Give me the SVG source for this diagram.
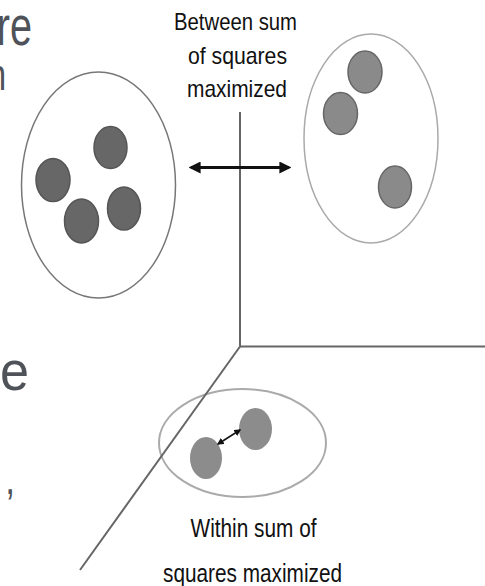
<svg xmlns="http://www.w3.org/2000/svg" width="485" height="586" viewBox="0 0 485 586">
  <defs>
    <style>
      .lbl { font-family: "Liberation Sans", Arial, sans-serif; font-size: 24px; fill: #111; }
      .lbl2 { font-family: "Liberation Sans", Arial, sans-serif; font-size: 25px; fill: #111; }
      .frag { font-family: "Liberation Sans", Arial, sans-serif; fill: #4f5359; }
      .dotDark { fill: #676767; stroke: #555; stroke-width: 1.5; }
      .dotMid { fill: #8a8a8a; stroke: #666; stroke-width: 1.5; }
      .dotLight { fill: #8c8c8c; stroke: none; }
      .axis { fill: none; stroke: #666; stroke-width: 2; }
      .arrow { fill: none; stroke: #111; }
    </style>
    <marker id="headBig" viewBox="0 0 10 10" refX="8" refY="5" markerWidth="12" markerHeight="12" markerUnits="userSpaceOnUse" orient="auto-start-reverse">
      <path d="M0,0 L10,5 L0,10 Z" fill="#111"/>
    </marker>
    <marker id="headSmall" viewBox="0 0 10 10" refX="8" refY="5" markerWidth="7" markerHeight="7" markerUnits="userSpaceOnUse" orient="auto-start-reverse">
      <path d="M0,0 L10,5 L0,10 Z" fill="#111"/>
    </marker>
  </defs>
  <rect width="485" height="586" fill="#fff"/>

  <g id="fragments">
    <text class="frag" font-size="55" text-anchor="end" transform="translate(32,45) scale(0.72,1)">re</text>
    <text class="frag" font-size="44" text-anchor="end" transform="translate(6,90) scale(0.75,1)">n</text>
    <text class="frag" font-size="55" text-anchor="end" transform="translate(29,390) scale(0.95,1)">e</text>
    <text class="frag" font-size="44" text-anchor="end" transform="translate(15,494) scale(0.8,1)">,</text>
  </g>

  <g id="cluster-left">
    <ellipse cx="98.5" cy="185" rx="77" ry="113" fill="none" stroke="#777" stroke-width="1.5"/>
    <ellipse class="dotDark" cx="110.5" cy="147.5" rx="16.5" ry="21"/>
    <ellipse class="dotDark" cx="53" cy="180" rx="17" ry="21.5"/>
    <ellipse class="dotDark" cx="81.5" cy="221" rx="17" ry="22"/>
    <ellipse class="dotDark" cx="124" cy="208.5" rx="16.5" ry="21.5"/>
  </g>

  <g id="cluster-right">
    <ellipse cx="371" cy="138.5" rx="67" ry="104.5" fill="none" stroke="#aaa" stroke-width="1.5"/>
    <ellipse class="dotMid" cx="365" cy="72" rx="17" ry="21"/>
    <ellipse class="dotMid" cx="340.5" cy="113.5" rx="17" ry="21"/>
    <ellipse class="dotMid" cx="395" cy="187" rx="16.5" ry="21"/>
  </g>

  <g id="cluster-bottom">
    <ellipse cx="242.5" cy="443" rx="83.5" ry="54" fill="none" stroke="#aaa" stroke-width="2"/>
    <ellipse class="dotLight" cx="206" cy="458" rx="16" ry="21"/>
    <ellipse class="dotLight" cx="255.5" cy="429" rx="16.5" ry="21"/>
  </g>

  <g id="label-between">
    <text class="lbl" x="174" y="30" textLength="123" lengthAdjust="spacingAndGlyphs">Between sum</text>
    <text class="lbl" x="188" y="63.5" textLength="99" lengthAdjust="spacingAndGlyphs">of squares</text>
    <text class="lbl" x="187" y="97" textLength="100" lengthAdjust="spacingAndGlyphs">maximized</text>
  </g>

  <g id="label-within">
    <text class="lbl2" x="190.5" y="536.5" textLength="126" lengthAdjust="spacingAndGlyphs">Within sum of</text>
    <text class="lbl2" x="163" y="581.5" textLength="179" lengthAdjust="spacingAndGlyphs">squares maximized</text>
  </g>

  <g id="connectors">
    <line class="axis" x1="240" y1="112" x2="240" y2="346.5"/>
    <line class="axis" x1="240" y1="346.5" x2="485" y2="346.5"/>
    <line class="axis" x1="240" y1="346.5" x2="80" y2="570" stroke="#555"/>
    <line class="arrow" x1="191" y1="167.5" x2="289" y2="167.5" stroke-width="3" marker-start="url(#headBig)" marker-end="url(#headBig)"/>
    <line class="arrow" x1="218" y1="444" x2="240" y2="430" stroke-width="1.5" marker-start="url(#headSmall)" marker-end="url(#headSmall)"/>
  </g>
</svg>
